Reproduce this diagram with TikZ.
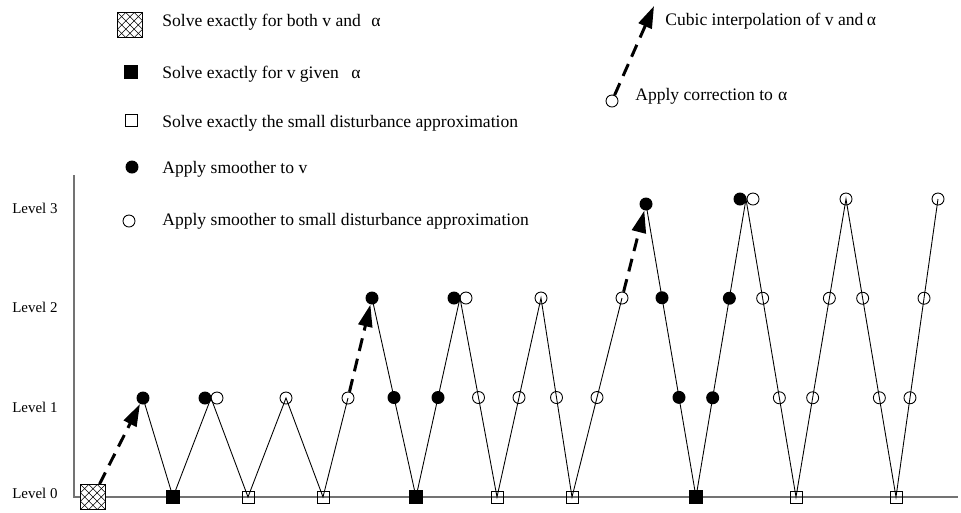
\documentclass[tikz,border=0pt]{standalone}
\usepackage{fontspec}
\setmainfont{Liberation Serif}
\usetikzlibrary{calc,arrows.meta}

\begin{document}
\begin{tikzpicture}[x=0.02cm,y=-0.02cm,
    fdot/.style={circle,fill=black,inner sep=0pt,minimum size=0.26cm},
    odot/.style={circle,draw=black,line width=0.5pt,inner sep=0pt,minimum size=0.24cm},
    fsq/.style={rectangle,fill=black,inner sep=0pt,minimum size=0.27cm},
    osq/.style={rectangle,draw=black,line width=0.5pt,inner sep=0pt,minimum size=0.24cm},
    xsq/.style={rectangle,draw=black,fill=white,line width=0.5pt,inner sep=0pt,minimum size=0.5cm,
      path picture={\foreach \k in {-2,...,2}{
        \draw[line width=0.3pt] ([shift={(\k*8.33-14,-14)}]path picture bounding box.center) -- ++(28,28);
        \draw[line width=0.3pt] ([shift={(\k*8.33-14,14)}]path picture bounding box.center) -- ++(28,-28);}}},
    jump/.style={line width=1.7pt,dash pattern=on 0.26cm off 0.16cm,-{Triangle[length=0.44cm,width=0.28cm]}},
    vline/.style={line width=0.5pt},
    axis/.style={line width=0.8pt,draw=black!55},
    lbl/.style={font=\fontsize{10}{12}\selectfont,anchor=base west,inner sep=0pt},
    lvl/.style={font=\fontsize{8.5}{10}\selectfont,anchor=base west,inner sep=0pt}]
  \useasboundingbox (0,0) rectangle (961,512);

  % axes
  \draw[axis] (74,175) -- (74,497) -- (958,497);
  \node[lvl] (lv3) at (12,213) {Level 3};
  \node[lvl] (lv2) at (12,312) {Level 2};
  \node[lvl] (lv1) at (12,412) {Level 1};
  \node[lvl] (lv0) at (12,498) {Level 0};

  % legend
  \node[xsq] (kx) at (130,25) {};
  \node[fsq] (kf) at (131,72) {};
  \node[osq] (ko) at (131,120) {};
  \node[fdot] (kd) at (132,167) {};
  \node[odot] (kc) at (129,221) {};
  \node[lbl] (tx) at (162,26) {Solve exactly for both v and\hspace{0.6em}α};
  \node[lbl] (tf) at (162,78) {Solve exactly for v given\hspace{0.7em}α};
  \node[lbl] (to) at (162,127) {Solve exactly the small disturbance approximation};
  \node[lbl] (td) at (162,173) {Apply smoother to v};
  \node[lbl] (tc) at (162,225) {Apply smoother to small disturbance approximation};

  \node[odot] (kr) at (612,101) {};
  \coordinate (ktip) at (654,6);
  \draw[jump] (kr) -- (ktip);
  \node[lbl] (ti) at (665,25) {Cubic interpolation of v and\hspace{0.2em}α};
  \node[lbl] (tr) at (635,100) {Apply correction to\hspace{0.3em}α};

  % level 0
  \node[xsq] (x0) at (93,497) {};
  \node[fsq] (s1) at (173,497) {};
  \node[osq] (s2) at (248,497) {};
  \node[osq] (s3) at (323,497) {};
  \node[fsq] (s4) at (416,497) {};
  \node[osq] (s5) at (497,497) {};
  \node[osq] (s6) at (572,497) {};
  \node[fsq] (s7) at (696,497) {};
  \node[osq] (s8) at (796,497) {};
  \node[osq] (s9) at (896,497) {};

  % tops of the cycles
  \node[fdot] (a1) at (143,398) {};
  \coordinate (p1) at (211,398);
  \node[fdot] (p1f) at (205,398) {};
  \node[odot] (p1o) at (217,398) {};
  \node[odot] (u1) at (286,398) {};
  \node[odot] (u2) at (348,398) {};
  \node[fdot] (b1) at (372,298) {};
  \coordinate (p2) at (460,298);
  \node[fdot] (p2f) at (454,298) {};
  \node[odot] (p2o) at (466,298) {};
  \node[odot] (v1) at (541,298) {};
  \node[odot] (v2) at (622,298) {};
  \node[fdot] (c1) at (646,204) {};
  \coordinate (p3) at (746,199);
  \node[fdot] (p3f) at (740,199) {};
  \node[odot] (p3o) at (753,199) {};
  \node[odot] (w1) at (846,199) {};
  \node[odot] (w2) at (938,199) {};

  % cycles
  \draw[vline] (a1.center) -- (s1.center) -- (p1) -- (s2.center) -- (u1.center) -- (s3.center) -- (u2.center);
  \draw[vline] (b1.center) -- (s4.center) -- (p2) -- (s5.center) -- (v1.center) -- (s6.center) -- (v2.center);
  \draw[vline] (c1.center) -- (s7.center) -- (p3) -- (s8.center) -- (w1.center) -- (s9.center) -- (w2.center);

  % smoothing steps in between
  \node[fdot] (m1) at ($(b1)!.5!(s4)$) {};
  \node[fdot] (m2) at ($(s4)!.5!(p2)$) {};
  \node[odot] (m3) at ($(p2)!.5!(s5)$) {};
  \node[odot] (m4) at ($(s5)!.5!(v1)$) {};
  \node[odot] (m5) at ($(v1)!.5!(s6)$) {};
  \node[odot] (m6) at ($(s6)!.5!(v2)$) {};
  \node[fdot] (n1) at ($(c1)!.32!(s7)$) {};
  \node[fdot] (n2) at ($(c1)!.66!(s7)$) {};
  \node[fdot] (n3) at ($(s7)!.333!(p3)$) {};
  \node[fdot] (n4) at ($(s7)!.667!(p3)$) {};
  \node[odot] (n5) at ($(p3)!.333!(s8)$) {};
  \node[odot] (n6) at ($(p3)!.667!(s8)$) {};
  \node[odot] (n7) at ($(s8)!.333!(w1)$) {};
  \node[odot] (n8) at ($(s8)!.667!(w1)$) {};
  \node[odot] (n9) at ($(w1)!.333!(s9)$) {};
  \node[odot] (n10) at ($(w1)!.667!(s9)$) {};
  \node[odot] (n11) at ($(s9)!.333!(w2)$) {};
  \node[odot] (n12) at ($(s9)!.667!(w2)$) {};

  % interpolation to the next finer level
  \draw[jump] (x0) -- (a1);
  \draw[jump] (u2) -- (b1);
  \draw[jump] (v2) -- (c1);
\end{tikzpicture}
\end{document}
